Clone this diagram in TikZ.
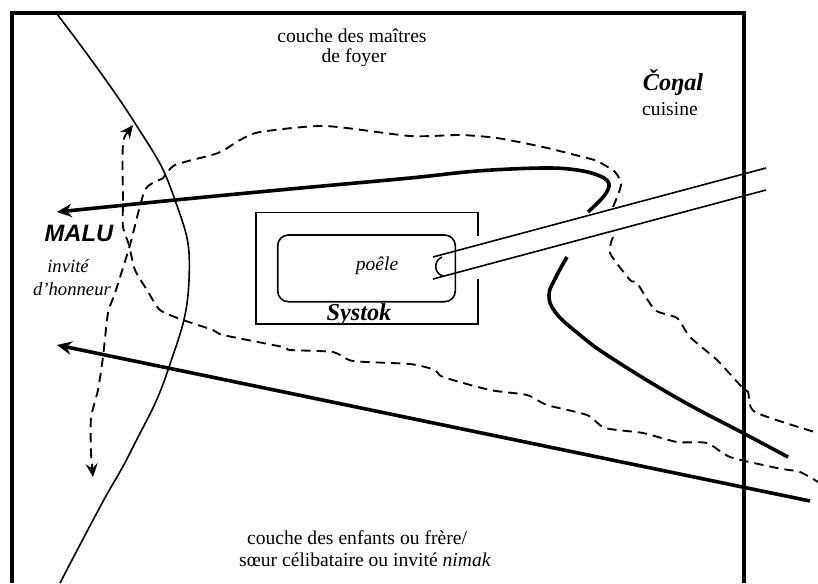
\documentclass[tikz,border=0pt]{standalone}
\usepackage{fontspec}
\setmainfont{Liberation Serif}
\newfontfamily\malufont{Liberation Sans}
\usetikzlibrary{arrows.meta,positioning}
\tikzset{
    %Define style for text
    etiq/.style={
           font=\fontsize{14.7pt}{16pt}\selectfont,
           inner sep=0pt},
    etiqit/.style={
           font=\fontsize{14pt}{16pt}\selectfont\itshape,
           inner sep=0pt},
    titre/.style={
           font=\fontsize{18.2pt}{20pt}\selectfont\bfseries\itshape,
           inner sep=0pt},
    % Define line styles
    mur/.style={line width=2.9pt},
    lim/.style={line width=1.2pt},
    pil/.style={line width=2.7pt},
    chem/.style={
           line width=1.4pt,
           dash pattern=on 7pt off 4.5pt},
    % Define arrow tips
    ptpil/.tip={Stealth[length=11pt,width=10pt]},
    ptchem/.tip={Stealth[length=10pt,width=9pt,inset=3.5pt]}
}

\begin{document}
\begin{tikzpicture}[x=0.75pt,y=-0.75pt]
\useasboundingbox (0,0) rectangle (818,583);
%Walls
\draw[mur] (12,583) -- (12,13) -- (744,13) -- (744,583);
%Layers boundary
\draw[lim] plot[smooth, tension=0.8] coordinates {(57,14) (133,120) (175,200) (189,280) (168,370) (133,447) (100,507) (60,583)};
%Stove
\draw[lim] (478,236) -- (478,212.5) -- (255.7,212.5) -- (255.7,323.7) -- (478,323.7) -- (478,279);
\draw[lim, rounded corners=8pt] (277.7,235) rectangle (455.3,301.7);
%Pipe
\coordinate (tuyauA) at (433,257);
\coordinate (tuyauB) at (766,168);
\coordinate (tuyauC) at (433,279);
\coordinate (tuyauD) at (766,190);
\draw[lim] (tuyauA) -- (tuyauB);
\draw[lim] (tuyauC) -- (tuyauD);
\draw[lim] (442,257) .. controls (434,260) and (433,273) .. (443,276);
%Smoke paths
\draw[pil, -ptpil] plot[smooth, tension=0.6] coordinates {(588,212) (604,196) (609,184) (600,176) (577,170) (543,168) (477,171) (410,178) (290,189) (175,200) (57,212)};
\draw[pil] plot[smooth, tension=0.7] coordinates {(567,257) (556,277) (549,295) (556,313) (580,335) (610,357) (677,398) (743,433) (788,457)};
\coordinate (fumeeA) at (810,501);
\coordinate (fumeeB) at (57,345);
\draw[pil, -ptpil] (fumeeA) -- (fumeeB);
%Dashed paths
\draw[chem, -ptchem] plot[smooth, tension=0.4] coordinates {(613,207) (621,185) (615,172) (597,161) (583,157) (543,147) (497,138) (460,135) (410,136) (325,126) (260,132) (240,140) (218,153) (175,165) (163,178) (145,190) (130,245) (115,293) (108,313) (103,357) (98,390) (91,418) (91,453) (93,477)};
\draw[chem, ptchem-] plot[smooth, tension=0.4] coordinates {(133,125) (123,145) (123,200) (123,227) (129,245) (135,270) (147,290) (160,310) (183,320) (213,330) (223,335) (283,347) (290,350) (333,352) (353,361) (410,364) (435,370) (443,377) (490,390) (527,395) (547,405) (587,415) (605,428) (643,433) (677,442) (707,443) (730,457) (777,468) (800,472) (818,482)};
\draw[chem] plot[smooth, tension=0.4] coordinates {(613,237) (610,253) (630,280) (637,283) (655,310) (677,318) (690,337) (717,360) (740,385) (748,392) (755,412) (818,433)};
%Nodes
\node[etiq] (maitres) at (352,36) {couche des maîtres};
\node[etiq] (foyer) at (354,58) {de foyer};
\node[titre] (conal) at (673,83) {Čoŋal};
\node[etiq] (cuisine) at (670,109) {cuisine};
\node[font=\fontsize{17.8pt}{20pt}\malufont\bfseries\itshape, inner sep=0pt] (malu) at (79,233) {MALU};
\node[etiqit] (invite) at (68,266) {invité};
\node[etiqit] (honneur) at (72,289) {d’honneur};
\node[etiqit, font=\fontsize{14.7pt}{16pt}\selectfont\itshape] (poele) at (377,266) {poêle};
\node[titre] (systok) at (359,315) {Systok};
\node[etiq] (enfants) at (357,538) {couche des enfants ou frère/};
\node[etiq] (soeur) at (365,560) {sœur célibataire ou invité \textit{nimak}};
\end{tikzpicture}
\end{document}
